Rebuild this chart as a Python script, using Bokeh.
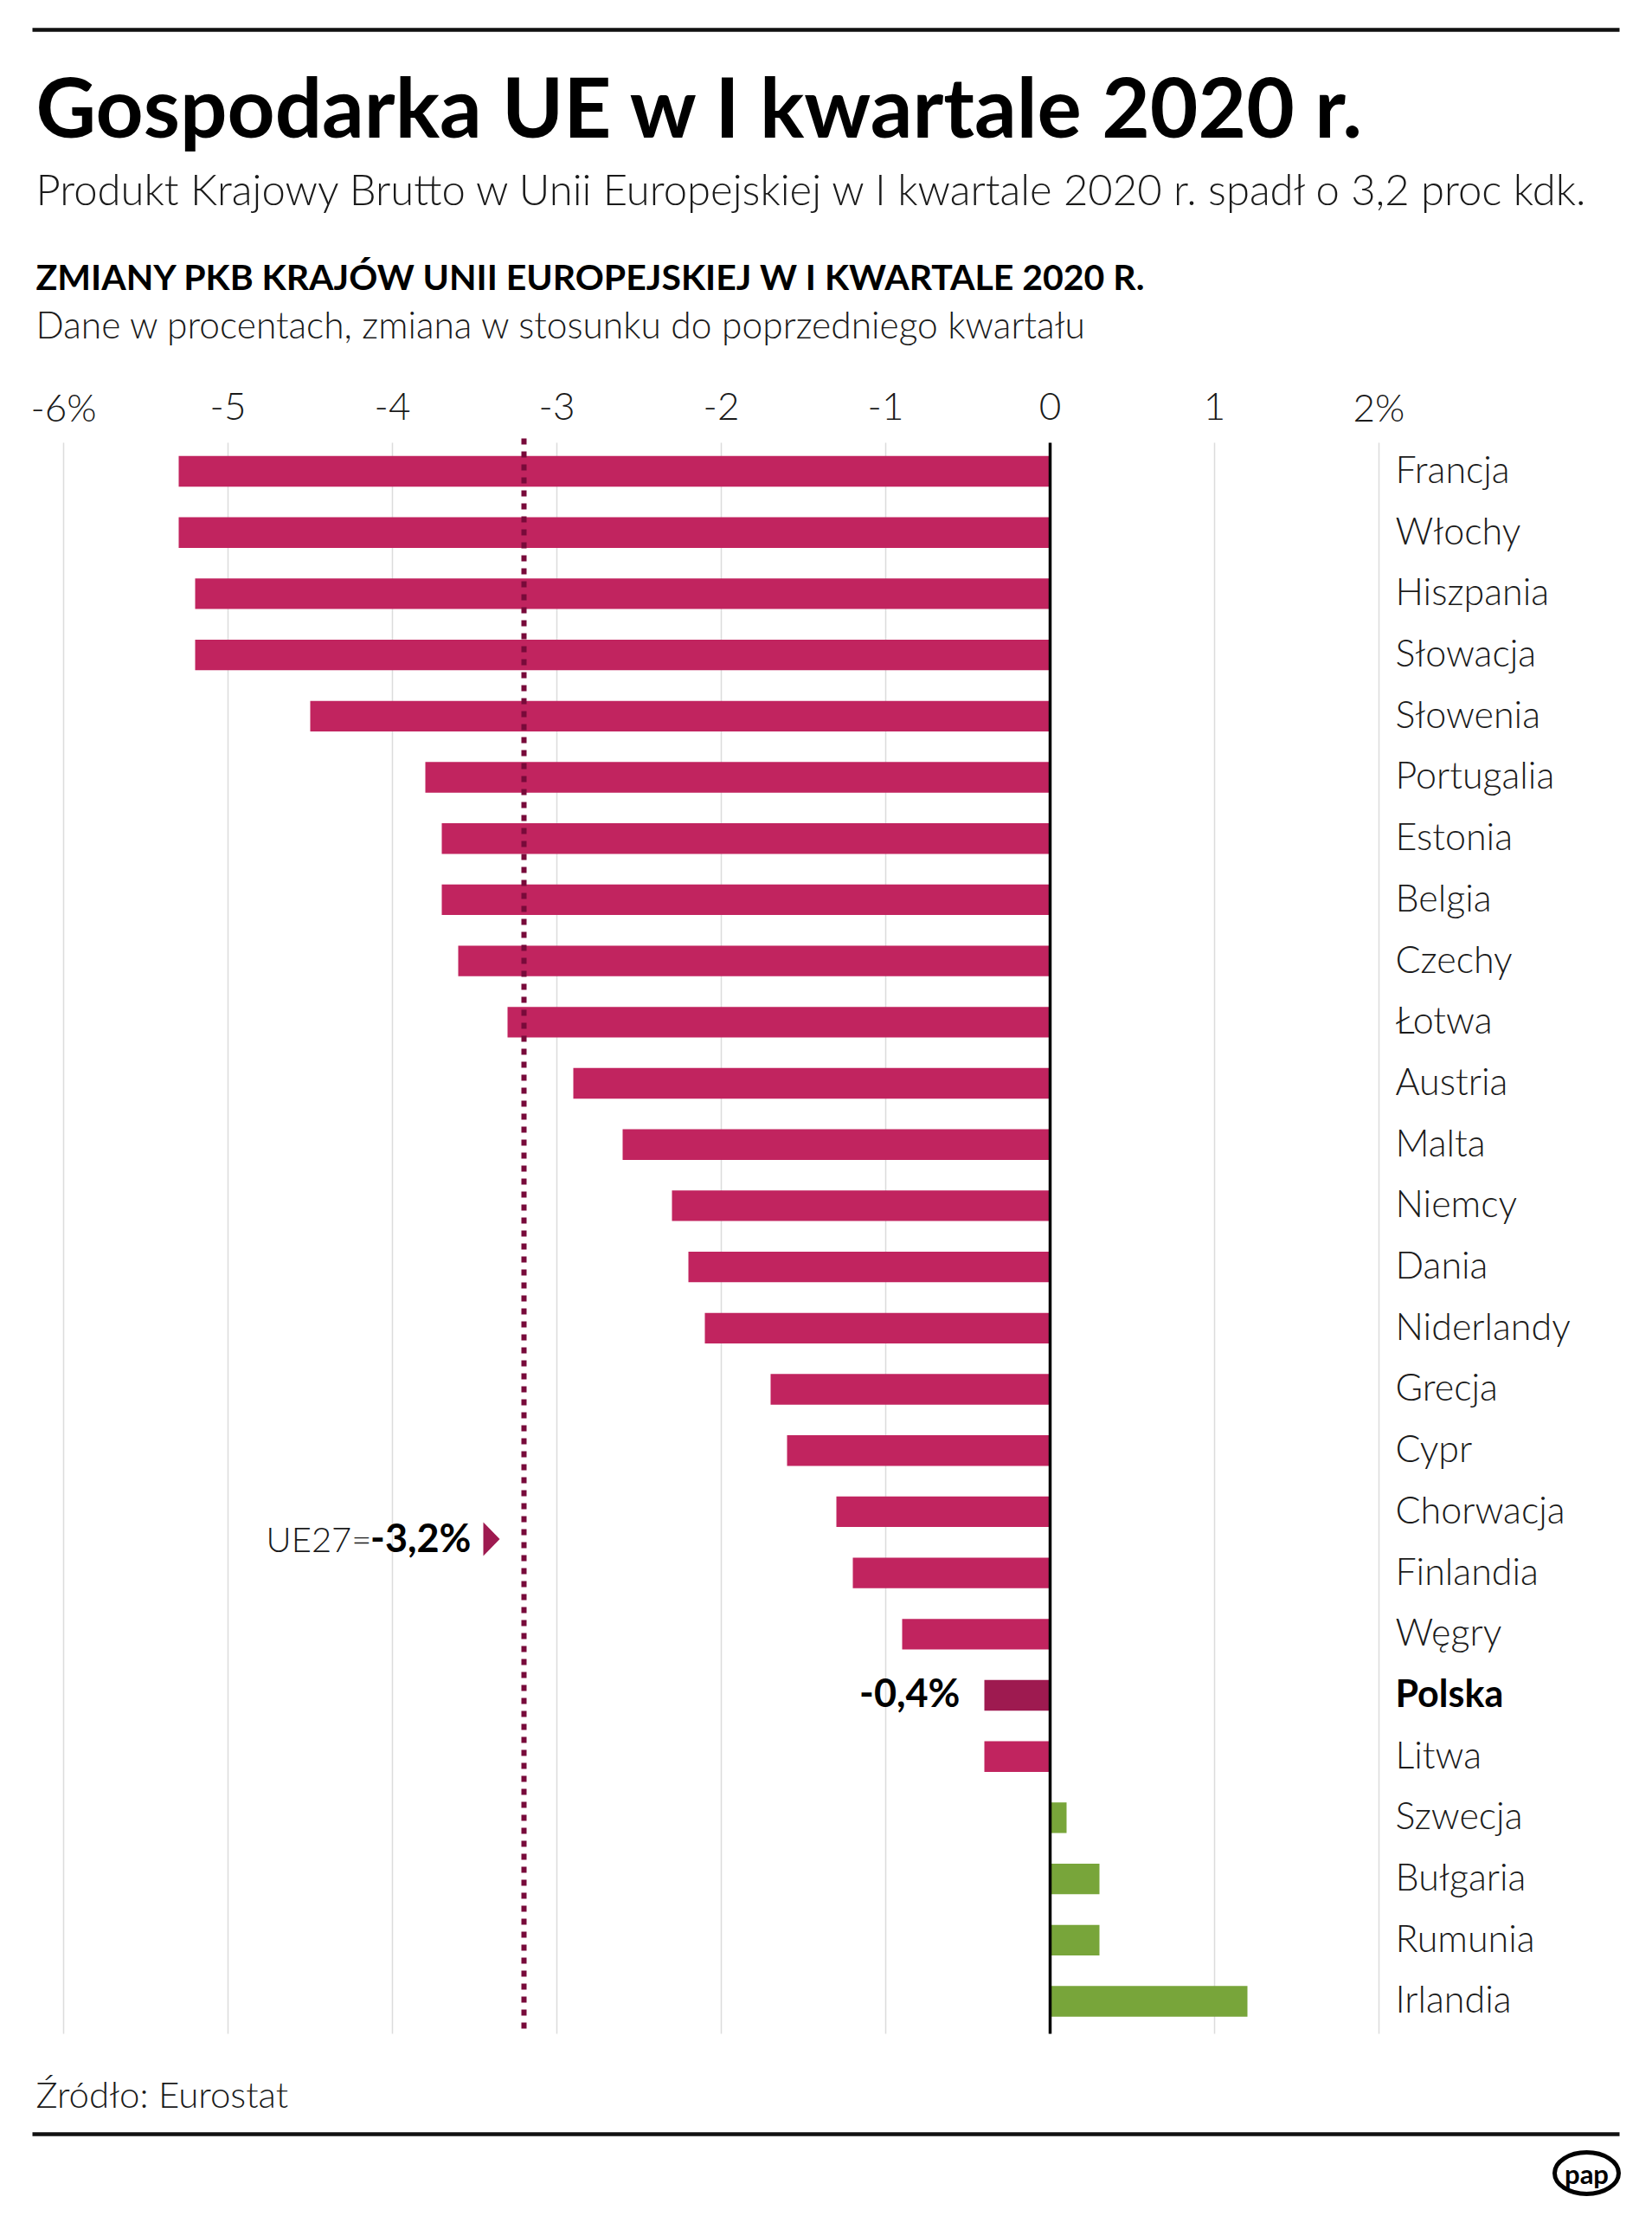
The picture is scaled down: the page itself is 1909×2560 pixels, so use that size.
from bokeh.plotting import figure
from bokeh.models import Range1d, ColumnDataSource
from bokeh.embed import file_html
from bokeh.resources import INLINE
from bokeh.core.properties import value

# ---------------- data ----------------
countries = ["Francja", "Włochy", "Hiszpania", "Słowacja", "Słowenia", "Portugalia",
             "Estonia", "Belgia", "Czechy", "Łotwa", "Austria", "Malta", "Niemcy",
             "Dania", "Niderlandy", "Grecja", "Cypr", "Chorwacja", "Finlandia",
             "Węgry", "Polska", "Litwa", "Szwecja", "Bułgaria", "Rumunia", "Irlandia"]
values = [-5.3, -5.3, -5.2, -5.2, -4.5, -3.8,
          -3.7, -3.7, -3.6, -3.3, -2.9, -2.6, -2.3,
          -2.2, -2.1, -1.7, -1.6, -1.3, -1.2,
          -0.9, -0.4, -0.4, 0.1, 0.3, 0.3, 1.2]
highlight = "Polska"
highlight_label = "-0,4%"
eu_avg = -3.2
eu_label_a = "UE27="
eu_label_b = "-3,2%"
tick_values = [-6, -5, -4, -3, -2, -1, 0, 1, 2]
tick_labels = ["-6%", "-5", "-4", "-3", "-2", "-1", "0", "1", "2%"]

title_text = "Gospodarka UE w I kwartale 2020 r."
subtitle_text = "Produkt Krajowy Brutto w Unii Europejskiej w I kwartale 2020 r. spadł o 3,2 proc kdk."
chart_title = "ZMIANY PKB KRAJÓW UNII EUROPEJSKIEJ W I KWARTALE 2020 R."
chart_sub = "Dane w procentach, zmiana w stosunku do poprzedniego kwartału"
source_text = "Źródło: Eurostat"
logo_text = "pap"

# ---------------- colours / fonts ----------------
NEG = "#c1245f"
NEG_HI = "#9e1a50"
POS = "#78a53a"
AVG = "#780a3a"
GRID = "#dcdcdc"
INK = "#111111"
TXT = "#1a1a1a"
LIGHT = value("Lato Light, Lato")
BOLD = value("Lato")

# ---------------- geometry (page pixels -> data) ----------------
W, H = 1893, 2544
OFF = 0
ZERO = 1213 - OFF
UNIT = 190.0
ROW0 = 544 - OFF
ROW = 70.7
SHIFT = 0.43  # em correction for the alphabetic baseline as rendered


def X(px):
    return (px - OFF - ZERO) / UNIT


def Y(py):
    return (py - OFF - ROW0) / ROW


def BL(py, fs):
    return Y(py - SHIFT * fs)


p = figure(width=W, height=H,
           x_range=Range1d(X(OFF), X(OFF + W)),
           y_range=Range1d(Y(OFF + H), Y(OFF)),
           output_backend="svg", toolbar_location=None,
           x_axis_location=None, y_axis_location=None,
           min_border=0, outline_line_color=None)
p.grid.visible = False
p.title.visible = False
p.background_fill_color = "white"
p.border_fill_color = "white"

# rules
p.segment(x0=[X(37)], x1=[X(1871)], y0=[Y(34)], y1=[Y(34)], line_color=INK, line_width=4.5)
p.segment(x0=[X(37)], x1=[X(1871)], y0=[Y(2465)], y1=[Y(2465)], line_color=INK, line_width=4.5)

# titles
p.text(x=[X(41)], y=[BL(162, 96)], text=[title_text], text_font=BOLD, text_font_style="bold",
       text_font_size="96px", text_color="black", text_baseline="alphabetic")
p.text(x=[X(41)], y=[BL(239, 49)], text=[subtitle_text], text_font=LIGHT,
       text_font_size="49px", text_color=TXT, text_baseline="alphabetic")
p.text(x=[X(41)], y=[BL(337, 41)], text=[chart_title], text_font=BOLD, text_font_style="bold",
       text_font_size="41px", text_color="black", text_baseline="alphabetic")
p.text(x=[X(41)], y=[BL(392, 42.5)], text=[chart_sub], text_font=LIGHT,
       text_font_size="42.5px", text_color=TXT, text_baseline="alphabetic")

# grid lines + tick labels
gy0, gy1 = Y(511), Y(2349)
p.segment(x0=tick_values, x1=tick_values, y0=[gy0] * len(tick_values), y1=[gy1] * len(tick_values),
          line_color=GRID, line_width=1.5)
p.text(x=tick_values, y=[BL(488, 44)] * len(tick_values), text=tick_labels, text_font=LIGHT,
       text_font_size="44px", text_color=TXT, text_align="center", text_baseline="alphabetic")

# bars
idx = list(range(len(countries)))
colors = [(NEG_HI if c == highlight else NEG) if v < 0 else POS for c, v in zip(countries, values)]
src = ColumnDataSource(dict(y=idx, left=[min(0, v) for v in values], right=[max(0, v) for v in values],
                            color=colors))
p.hbar(y="y", left="left", right="right", height=0.5, fill_color="color", line_color=None, source=src)

# zero line
p.segment(x0=[0], x1=[0], y0=[gy0], y1=[gy1], line_color="black", line_width=3.5)

# EU average dotted line
p.segment(x0=[eu_avg], x1=[eu_avg], y0=[Y(506)], y1=[gy1], line_color=AVG, line_width=6,
          line_dash="7 8")

# EU annotation
p.text(x=[eu_avg - (606 - 545) / UNIT], y=[BL(1795, 45)], text=[eu_label_b], text_font=BOLD,
       text_font_style="bold", text_font_size="45px", text_color="black", text_align="right",
       text_baseline="alphabetic")
p.text(x=[eu_avg - (606 - 430) / UNIT], y=[BL(1795, 40)], text=[eu_label_a], text_font=LIGHT,
       text_font_size="40px", text_color=TXT, text_align="right", text_baseline="alphabetic")
p.patch(x=[eu_avg - (606 - 559) / UNIT, eu_avg - (606 - 578) / UNIT, eu_avg - (606 - 559) / UNIT],
        y=[Y(1758), Y(1777.5), Y(1797)], fill_color=NEG_HI, line_color=None)

# country labels
lab_x = X(1612)
normal = [i for i, c in enumerate(countries) if c != highlight]
hi = [i for i, c in enumerate(countries) if c == highlight]
LFS = 43
p.text(x=[lab_x] * len(normal), y=normal, text=[countries[i] for i in normal], text_font=LIGHT,
       text_font_size=f"{LFS}px", text_color=TXT, text_baseline="alphabetic",
       y_offset=0.36 * LFS - SHIFT * LFS)
p.text(x=[lab_x] * len(hi), y=hi, text=[countries[i] for i in hi], text_font=BOLD, text_font_style="bold",
       text_font_size=f"{LFS}px", text_color="black", text_baseline="alphabetic",
       y_offset=0.36 * LFS - SHIFT * LFS)

# highlight value label
HFS = 45
p.text(x=[values[i] for i in hi], y=hi, text=[highlight_label], text_font=BOLD, text_font_style="bold",
       text_font_size=f"{HFS}px", text_color="black", text_align="right", text_baseline="alphabetic",
       x_offset=-28, y_offset=0.36 * HFS - SHIFT * HFS)

# source
p.text(x=[X(41)], y=[BL(2437, 42)], text=[source_text], text_font=LIGHT,
       text_font_size="42px", text_color=TXT, text_baseline="alphabetic")

# logo
p.ellipse(x=[X(1833)], y=[Y(2510)], width=74, height=48, width_units="screen", height_units="screen",
          fill_color="white", line_color="black", line_width=5)
p.text(x=[X(1833)], y=[Y(2510)], text=[logo_text], text_font=BOLD, text_font_style="bold",
       text_font_size="31px", text_color="black", text_align="center", text_baseline="middle")

open("out.html", "w").write(file_html(p, INLINE))
